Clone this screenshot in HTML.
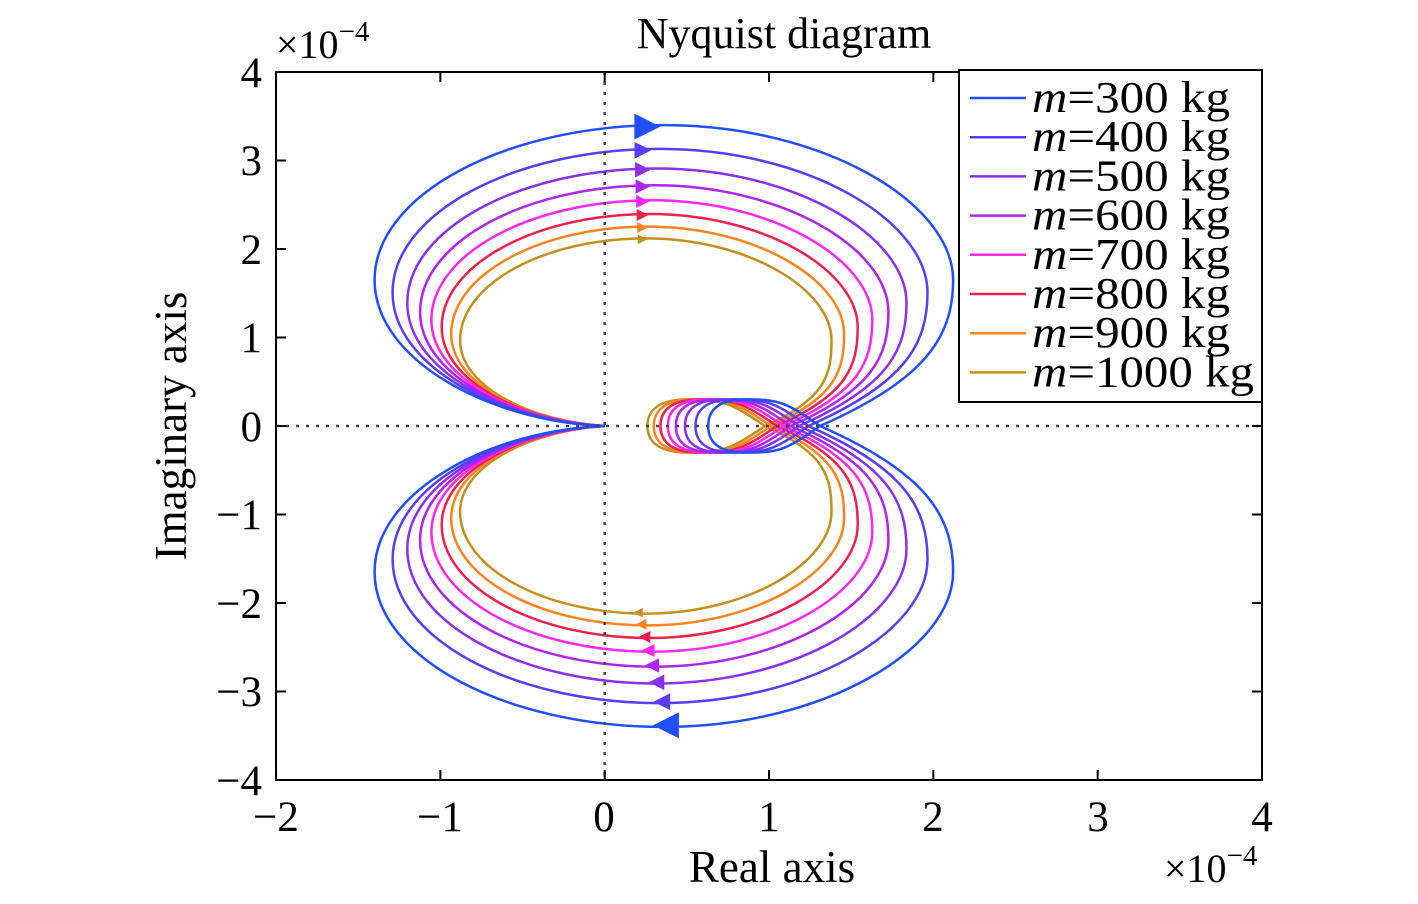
<!DOCTYPE html>
<html><head><meta charset="utf-8"><style>
body{margin:0;background:#fff;width:1418px;height:899px;overflow:hidden}
text{font-family:"Liberation Serif",serif;fill:#000}
</style></head><body>
<svg id="s" width="1418" height="899" xmlns="http://www.w3.org/2000/svg">
<rect x="276" y="72" width="986" height="708" fill="#fff"/>
<g id="curves"></g>
<line x1="604.7" y1="72" x2="604.7" y2="780" stroke="#444" stroke-width="2.5" stroke-dasharray="3,7"/>
<line x1="276" y1="426" x2="1262" y2="426" stroke="#444" stroke-width="2.5" stroke-dasharray="3,7"/>
<rect x="276" y="72" width="986" height="708" fill="none" stroke="#000" stroke-width="2"/>
<g id="ticks" stroke="#000" stroke-width="2"></g>
<g font-size="43" text-anchor="middle">
<text x="276" y="831">−2</text><text x="440" y="831">−1</text><text x="604" y="831">0</text><text x="769" y="831">1</text><text x="933" y="831">2</text><text x="1098" y="831">3</text><text x="1262" y="831">4</text>
</g>
<g font-size="43" text-anchor="end">
<text x="262" y="87">4</text><text x="262" y="175">3</text><text x="262" y="264">2</text><text x="262" y="352">1</text><text x="262" y="441">0</text><text x="262" y="529">−1</text><text x="262" y="618">−2</text><text x="262" y="706">−3</text><text x="262" y="795">−4</text>
</g>
<text x="276" y="58" font-size="40">×10<tspan dy="-17" font-size="29">−4</tspan></text>
<text x="1164" y="882" font-size="40">×10<tspan dy="-17" font-size="29">−4</tspan></text>
<text x="784" y="48" font-size="44" text-anchor="middle">Nyquist diagram</text>
<text x="772" y="882" font-size="45" text-anchor="middle">Real axis</text>
<text transform="translate(186,426) rotate(-90)" font-size="45" text-anchor="middle">Imaginary axis</text>
<rect x="959" y="70" width="303" height="332" fill="#fff" stroke="#000" stroke-width="2"/>
<g id="legend" font-size="44"></g>
</svg>
<script>
var cols=["#1f4fff","#5a3cff","#8a30f0","#b024f0","#ff28f0","#f0204c","#ff8420","#c4901c"];
var names=["300","400","500","600","700","800","900","1000"];
var ms=[300,400,500,600,700,800,900,1000];
function X(x){return 604.7+x*164.33}function Y(y){return 426-y*88.5}
function P(p){return X(p[0]).toFixed(1)+","+Y(p[1]).toFixed(1)}
var g=document.getElementById("curves"),h="";
for(var i=7;i>=0;i--){
var tl=(Math.log(ms[i])-Math.log(300))/(Math.log(1000)-Math.log(300));
var t=0.3*(i/7)+0.7*tl;
var A=-1.4+0.52*t,T=3.4-1.28*t,R=2.12-0.74*t,yR=1.65-0.68*t,C=1.31-0.335*t,L=0.63-0.37*t,mid=(A+R)/2;
var B=L+0.35*(C-L),k=0.45*yR;
var segs=[[[A*0.5,0.05],[A,yR*0.45],[A,yR]],
[[A,yR+0.55*(T-yR)],[mid-0.55*(mid-A),T],[mid,T]],
[[mid+0.55*(R-mid),T],[R,yR+0.5*(T-yR)],[R,yR]],
[[R,yR*0.6],[C+0.85*k,k*0.7],[C,0]],
[[C-0.2,-0.26],[B+0.2,-0.3],[B,-0.3]],
[[B-0.18,-0.3],[L,-0.18],[L,0]]];
var d="M"+P([0,0]);segs.forEach(function(s){d+=" C"+P(s[0])+" "+P(s[1])+" "+P(s[2]);});
var d2="M"+P([0,0]);segs.forEach(function(s){d2+=" C"+P([s[0][0],-s[0][1]])+" "+P([s[1][0],-s[1][1]])+" "+P([s[2][0],-s[2][1]]);});
h+='<path d="'+d+'" fill="none" stroke="'+cols[i]+'" stroke-width="2.5"/>';
h+='<path d="'+d2+'" fill="none" stroke="'+cols[i]+'" stroke-width="2.5"/>';
var sz=i==0?13:(9-i*0.6);
var ax=X(0.2)+(i==0?2:i*0.3),ay=Y(T*0.995);
h+='<polygon points="'+(ax-sz*0.4)+','+(ay-sz)+' '+(ax+sz*1.6)+','+ay+' '+(ax-sz*0.4)+','+(ay+sz)+'" fill="'+cols[i]+'"/>';
var bx=X(0.42-0.2*t),by=Y(-T*0.995);
h+='<polygon points="'+(bx+sz*0.4)+','+(by-sz)+' '+(bx-sz*1.6)+','+by+' '+(bx+sz*0.4)+','+(by+sz)+'" fill="'+cols[i]+'"/>';
}
g.innerHTML=h;
var tk="";
for(var k=-2;k<=4;k++){var x=X(k);tk+='<line x1="'+x+'" y1="780" x2="'+x+'" y2="770"/><line x1="'+x+'" y1="72" x2="'+x+'" y2="82"/>';}
for(var k=-4;k<=4;k++){var y=Y(k);tk+='<line x1="276" y1="'+y+'" x2="286" y2="'+y+'"/><line x1="1262" y1="'+y+'" x2="1252" y2="'+y+'"/>';}
document.getElementById("ticks").innerHTML=tk;
var lg="";
for(var i=0;i<8;i++){var y=98+i*39.2;
lg+='<line x1="970" y1="'+y+'" x2="1026" y2="'+y+'" stroke="'+cols[i]+'" stroke-width="2.5"/>';
lg+='<text x="1032" y="'+(y+14)+'" textLength="'+(i==7?222:198)+'" lengthAdjust="spacingAndGlyphs"><tspan font-style="italic">m</tspan>='+names[i]+' kg</text>';}
document.getElementById("legend").innerHTML=lg;
</script>
</body></html>
